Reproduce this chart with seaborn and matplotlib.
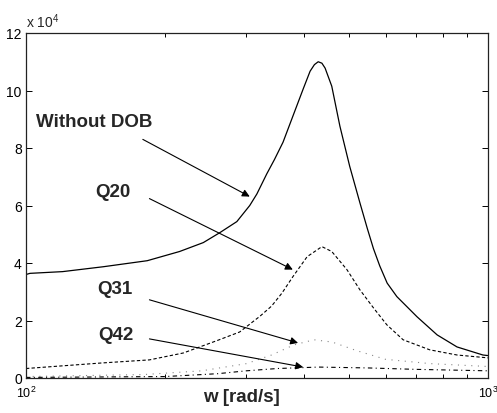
import numpy as np
import pandas as pd
import matplotlib
matplotlib.use("Agg")
import matplotlib.pyplot as plt
import seaborn as sns
from matplotlib.ticker import LogLocator, LogFormatterMathtext, NullFormatter, MultipleLocator

# ---- data (values in units of 10^4) ----
w_nodob = [100, 102, 120, 147, 183, 215, 242, 263, 286, 305, 316, 332, 345, 360, 378, 398, 412, 421, 429, 437, 444, 459, 478, 502, 528, 548, 565, 583, 605, 635, 702, 776, 857, 975, 1000]
v_nodob = [3.60, 3.64, 3.70, 3.87, 4.08, 4.40, 4.71, 5.06, 5.44, 6.00, 6.40, 7.10, 7.60, 8.20, 9.10, 10.05, 10.67, 10.90, 11.00, 10.95, 10.78, 10.15, 8.76, 7.36, 6.10, 5.20, 4.50, 3.90, 3.30, 2.83, 2.13, 1.50, 1.08, 0.80, 0.78]

w_q20 = [100, 145, 185, 219, 259, 290, 321, 340, 358, 378, 406, 437, 459, 495, 528, 565, 604, 655, 748, 857, 1000]
v_q20 = [0.33, 0.52, 0.63, 0.87, 1.30, 1.60, 2.15, 2.50, 2.95, 3.52, 4.22, 4.57, 4.40, 3.77, 3.07, 2.44, 1.85, 1.33, 0.98, 0.80, 0.70]

w_q31 = [100, 180, 240, 300, 340, 380, 420, 460, 520, 600, 750, 1000]
v_q31 = [0.05, 0.12, 0.25, 0.50, 0.80, 1.15, 1.33, 1.25, 0.95, 0.65, 0.50, 0.40]

w_q42 = [100, 200, 260, 300, 350, 430, 550, 700, 1000]
v_q42 = [0.02, 0.05, 0.15, 0.25, 0.33, 0.38, 0.35, 0.30, 0.25]

labels = ["Without DOB", "Q20", "Q31", "Q42"]
label_pos = [(105, 8.93), (141, 6.49), (142.5, 3.10), (143, 1.50)]
arrow_tail = [(179, 8.30), (185, 6.24), (185, 2.72), (185, 1.36)]
arrow_head = [(305, 6.31), (378, 3.77), (388, 1.22), (398, 0.38)]

sns.set_style("ticks")
plt.rcParams["font.family"] = ["Liberation Sans", "DejaVu Sans"]
plt.rcParams["mathtext.fontset"] = "custom"
plt.rcParams["mathtext.rm"] = "Liberation Sans"
plt.rcParams["mathtext.it"] = "Liberation Sans"

fig = plt.figure(figsize=(4.97, 4.14), dpi=100)
ax = fig.add_axes([26/497, 35/414, 462/497, 345/414])

sns.lineplot(x=w_nodob, y=v_nodob, ax=ax, color="black", lw=0.9, linestyle="-")
sns.lineplot(x=w_q20, y=v_q20, ax=ax, color="black", lw=0.8, linestyle=(0, (3, 2)))
sns.lineplot(x=w_q31, y=v_q31, ax=ax, color="#888888", lw=0.8, linestyle=(0, (1, 5)))
sns.lineplot(x=w_q42, y=v_q42, ax=ax, color="black", lw=0.8, linestyle=(0, (4, 3, 1, 3)))

ax.set_xscale("log")
ax.set_xlim(100, 1000)
ax.set_ylim(0, 12)
ax.xaxis.set_major_locator(LogLocator(base=10))
ax.xaxis.set_major_formatter(LogFormatterMathtext())
ax.xaxis.set_minor_locator(LogLocator(base=10, subs=np.arange(2, 10)))
ax.xaxis.set_minor_formatter(NullFormatter())
ax.set_yticks(np.arange(0, 13, 2))
ax.set_yticklabels([f"{int(t)}" for t in np.arange(0, 13, 2)])

ax.tick_params(which="both", direction="in", top=True, right=True, labelsize=10, colors="black", pad=3)
ax.tick_params(which="major", length=4, width=0.7)
ax.tick_params(which="minor", length=3, width=0.7)
ax.tick_params(axis="x", which="major", pad=5, labelsize=9)
for s in ax.spines.values():
    s.set_linewidth(0.9)
    s.set_color("#222222")

ax.set_xlabel("")
ax.set_ylabel("")
fig.text(241/497, (414-398)/414, "w [rad/s]", fontsize=13.5, fontweight="bold", ha="center", va="center")
ax.text(0.0, 1.01, r"x 10$^{4}$", transform=ax.transAxes, fontsize=10, ha="left", va="bottom")

for lab, (tx, ty), tail, head in zip(labels, label_pos, arrow_tail, arrow_head):
    ax.text(tx, ty, lab, fontsize=13.5, fontweight="bold", ha="left", va="center")
    ax.annotate("", xy=head, xytext=tail,
                arrowprops=dict(arrowstyle="-|>", color="black", lw=0.8,
                                mutation_scale=11, shrinkA=0, shrinkB=0))

fig.savefig("out.png", dpi=100)
